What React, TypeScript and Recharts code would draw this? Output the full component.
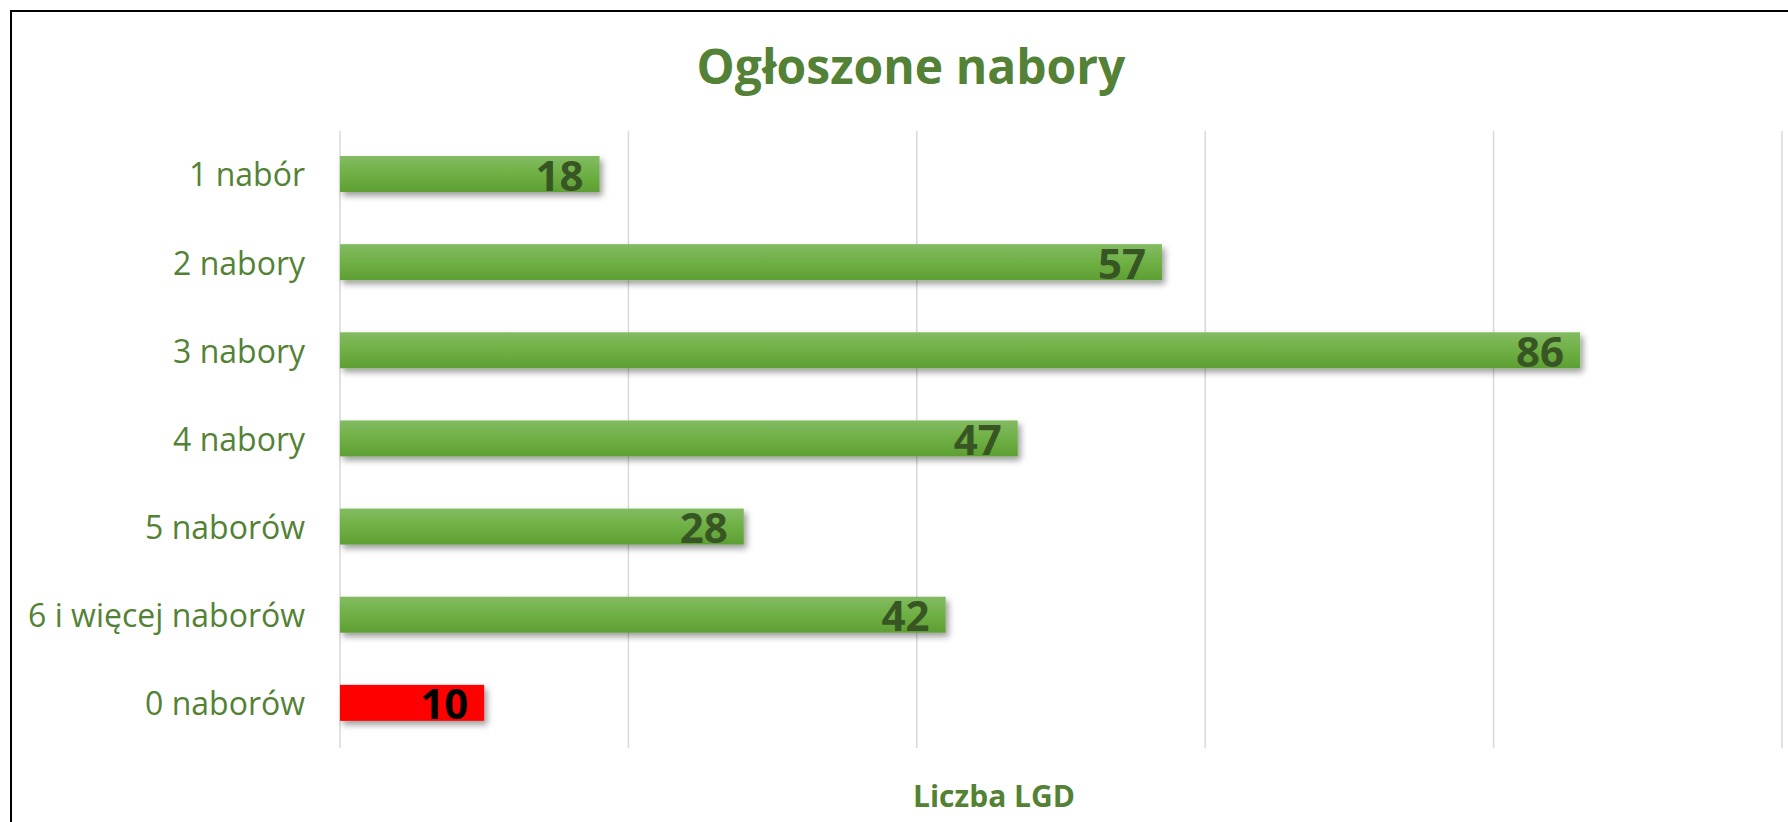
import React from "react";
import { BarChart, Bar, XAxis, YAxis, CartesianGrid, LabelList } from "recharts";

const categories = [
  "1 nabór",
  "2 nabory",
  "3 nabory",
  "4 nabory",
  "5 naborów",
  "6 i więcej naborów",
  "0 naborów",
];
const lgdCounts = [18, 57, 86, 47, 28, 42, 10];
const highlighted = [false, false, false, false, false, false, true];
const xTicks = [0, 20, 40, 60, 80, 100];

const chartTitle = "Ogłoszone nabory";
const xAxisTitle = "Liczba LGD";

const data = categories.map((name, i) => ({
  name,
  value: lgdCounts[i],
  red: highlighted[i],
}));

const FONT = "'Open Sans', 'Noto Sans', sans-serif";
const GREEN_TEXT = "#548235";

const BarShape = (props: any) => {
  const { x, y, width, height, payload } = props;
  return (
    <rect
      x={x}
      y={y - 1}
      width={width}
      height={height}
      fill={payload.red ? "#ff0000" : "url(#barGreen)"}
      filter="url(#barShadow)"
    />
  );
};

const ValueLabel = (props: any) => {
  const { x, y, width, height, value, index } = props;
  return (
    <text
      x={x + width - 16}
      y={y + height / 2}
      textAnchor="end"
      dominantBaseline="central"
      fontFamily={FONT}
      fontWeight={700}
      fontSize={42}
      fill={highlighted[index] ? "#000000" : "#375623"}
    >
      {value}
    </text>
  );
};

export default function App() {
  return (
    <div
      style={{
        position: "fixed",
        left: 0,
        top: 0,
        width: 1788,
        height: 822,
        overflow: "hidden",
        background: "#fff",
      }}
    >
      <div
        style={{
          position: "absolute",
          left: 10,
          top: 10,
          width: 1800,
          height: 830,
          borderLeft: "2px solid #000",
          borderTop: "2px solid #000",
        }}
      />
      <div
        style={{
          position: "absolute",
          left: 611,
          top: 36,
          width: 600,
          textAlign: "center",
          fontFamily: FONT,
          fontWeight: 700,
          fontSize: 48,
          lineHeight: "60px",
          color: "#538135",
        }}
      >
        {chartTitle}
      </div>
      <div
        style={{
          position: "absolute",
          left: 794,
          top: 776,
          width: 400,
          textAlign: "center",
          fontFamily: FONT,
          fontWeight: 700,
          fontSize: 30,
          lineHeight: "40px",
          color: GREEN_TEXT,
        }}
      >
        {xAxisTitle}
      </div>
      <div style={{ position: "absolute", left: 0, top: 0 }}>
        <BarChart
          width={1788}
          height={822}
          data={data}
          layout="vertical"
          margin={{ top: 131, right: 6, bottom: 74, left: 0 }}
        >
          <defs>
            <linearGradient id="barGreen" x1="0" y1="0" x2="0" y2="1">
              <stop offset="0%" stopColor="#83bb62" />
              <stop offset="50%" stopColor="#6fb045" />
              <stop offset="100%" stopColor="#5e9f33" />
            </linearGradient>
            <filter id="barShadow" x="-5%" y="-30%" width="115%" height="180%">
              <feDropShadow dx="3" dy="4" stdDeviation="3" floodColor="#000" floodOpacity="0.38" />
            </filter>
          </defs>
          <CartesianGrid horizontal={false} stroke="#d9d9d9" strokeWidth={1.5} />
          <XAxis type="number" domain={[0, 100]} ticks={xTicks} hide />
          <YAxis
            type="category"
            dataKey="name"
            width={340}
            axisLine={false}
            tickLine={false}
            tickSize={0}
            tickMargin={35}
            tick={{ fill: GREEN_TEXT, fontSize: 32, fontFamily: FONT }}
            interval={0}
          />
          <Bar dataKey="value" barSize={36} shape={BarShape} isAnimationActive={false}>
            <LabelList
              dataKey="value"
              content={(p: any) => <ValueLabel {...p} y={p.y - 1} />}
            />
          </Bar>
        </BarChart>
      </div>
    </div>
  );
}
